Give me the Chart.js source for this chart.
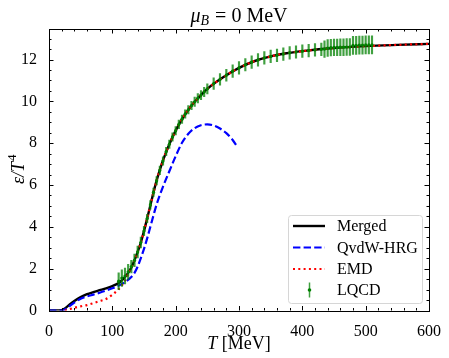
<!DOCTYPE html>
<html>
<head>
<meta charset="utf-8">
<script src="https://cdn.jsdelivr.net/npm/chart.js@4.4.0/dist/chart.umd.min.js"></script>
<style>
html, body { margin: 0; padding: 0; background: #fff; }
canvas { display: block; }
</style>
</head>
<body>
<canvas id="myChart" width="449" height="358"></canvas>
<script>
// merged curve
const mergedT = [0, 10, 20, 25, 30, 40, 50, 60, 70, 80, 90, 100, 110, 115, 120, 125, 130, 135, 140, 145, 150, 155, 160, 165, 170, 175, 180, 190, 200, 210, 220, 230, 240, 250, 275, 300, 325, 350, 375, 400, 450, 500, 550, 600];
const mergedE = [0, 0, 0.02, 0.1, 0.22, 0.45, 0.64, 0.78, 0.88, 0.97, 1.06, 1.17, 1.32, 1.44, 1.6, 1.8, 2.05, 2.4, 2.8, 3.25, 3.8, 4.4, 5.02, 5.65, 6.22, 6.72, 7.18, 7.95, 8.6, 9.15, 9.6, 9.98, 10.3, 10.6, 11.15, 11.6, 11.93, 12.15, 12.3, 12.4, 12.55, 12.64, 12.7, 12.75];

// QvdW-HRG
const qvdwT = [0, 20, 25, 30, 40, 50, 60, 70, 80, 90, 100, 110, 120, 130, 135, 140, 145, 150, 155, 160, 165, 170, 180, 190, 200, 210, 220, 230, 240, 250, 260, 270, 280, 290, 298];
const qvdwE = [0, 0, 0.05, 0.15, 0.38, 0.56, 0.67, 0.76, 0.85, 0.95, 1.06, 1.19, 1.36, 1.6, 1.8, 2.1, 2.5, 2.95, 3.45, 4.0, 4.55, 5.08, 5.92, 6.66, 7.38, 8.02, 8.45, 8.72, 8.86, 8.9, 8.85, 8.7, 8.48, 8.15, 7.8];

// EMD
const emdT = [25, 30, 40, 50, 60, 70, 80, 90, 100, 105, 110, 115, 120, 125, 130, 135, 140, 145, 150, 155, 160, 165, 170, 175, 180, 190, 200, 210, 220, 230, 240, 250, 275, 300, 325, 350, 375, 400, 450, 500, 550, 600];
const emdE = [0, 0.04, 0.13, 0.2, 0.26, 0.35, 0.45, 0.55, 0.75, 0.88, 1.02, 1.2, 1.42, 1.75, 2.05, 2.4, 2.8, 3.25, 3.8, 4.4, 5.02, 5.65, 6.22, 6.72, 7.18, 7.95, 8.6, 9.15, 9.6, 9.98, 10.3, 10.6, 11.15, 11.6, 11.93, 12.15, 12.3, 12.4, 12.55, 12.64, 12.7, 12.75];

// LQCD
const lqcdT = [110, 115, 120, 125, 130, 135, 140, 145, 150, 155, 160, 165, 170, 175, 180, 185, 190, 195, 200, 205, 210, 215, 220, 225, 230, 235, 240, 245, 250,
  260, 270, 280, 290, 300, 310, 320, 330, 340, 350, 360, 370, 380, 390, 400, 410, 420, 430,
  435, 440, 445, 450, 455, 460, 465, 470, 475, 480, 485, 490, 495, 500, 505, 510];
const lqcdE = [1.4, 1.55, 1.65, 1.85, 2.1, 2.4, 2.8, 3.25, 3.8, 4.4, 5.05, 5.65, 6.2, 6.7, 7.15, 7.6, 7.95, 8.3, 8.6, 8.9, 9.15, 9.4, 9.6, 9.8, 9.98, 10.15, 10.3, 10.45, 10.6,
  10.85, 11.05, 11.25, 11.45, 11.6, 11.75, 11.88, 11.98, 12.08, 12.15, 12.2, 12.26, 12.32, 12.36, 12.4, 12.43, 12.46, 12.49,
  12.5, 12.55, 12.57, 12.58, 12.58, 12.59, 12.59, 12.6, 12.6, 12.68, 12.68, 12.69, 12.69, 12.7, 12.7, 12.7];
const lqcdErr = [0.4, 0.4, 0.38, 0.36, 0.3, 0.3, 0.28, 0.26, 0.22, 0.2, 0.2, 0.2, 0.2, 0.2, 0.2, 0.2, 0.2, 0.2, 0.2, 0.2, 0.2, 0.2, 0.2, 0.2, 0.22, 0.22, 0.22, 0.22, 0.24,
  0.28, 0.28, 0.28, 0.3, 0.3, 0.3, 0.3, 0.3, 0.3, 0.3, 0.3, 0.3, 0.3, 0.3, 0.3, 0.3, 0.3, 0.3,
  0.4, 0.4, 0.4, 0.4, 0.4, 0.4, 0.4, 0.4, 0.4, 0.43, 0.43, 0.43, 0.43, 0.43, 0.43, 0.43];

const xTicks = [0, 100, 200, 300, 400, 500, 600];
const yTicks = [0, 2, 4, 6, 8, 10, 12];

const serif = '"Liberation Serif", "Times New Roman", serif';
const green = 'rgba(0,128,0,0.75)';

const pts = (xs, ys) => xs.map((t, i) => ({x: t, y: ys[i]}));

// matplotlib-like frame, inward ticks, title, labels and legend
const decor = {
  id: 'decor',
  afterDraw(chart) {
    const {ctx, chartArea: a, scales: {x, y}} = chart;
    ctx.save();
    ctx.strokeStyle = '#000';
    ctx.lineWidth = 1;
    // ticks on all four sides
    ctx.beginPath();
    for (let v = 0; v <= 600; v += 20) {
      const px = Math.round(x.getPixelForValue(v)) + 0.5;
      const len = v % 100 === 0 ? 4.5 : 2.5;
      ctx.moveTo(px, a.bottom); ctx.lineTo(px, a.bottom - len);
      ctx.moveTo(px, a.top); ctx.lineTo(px, a.top + len);
    }
    for (let v = 0; v <= 13; v += 0.5) {
      const py = Math.round(y.getPixelForValue(v)) + 0.5;
      const len = v % 2 === 0 ? 4.5 : 2.5;
      ctx.moveTo(a.left, py); ctx.lineTo(a.left + len, py);
      ctx.moveTo(a.right, py); ctx.lineTo(a.right - len, py);
    }
    ctx.stroke();
    ctx.strokeRect(Math.round(a.left) + 0.5, Math.round(a.top) + 0.5, Math.round(a.width), Math.round(a.height));

    ctx.fillStyle = '#000';
    ctx.textBaseline = 'alphabetic';
    // title: mu_B = 0 MeV
    const cx = (a.left + a.right) / 2;
    ctx.font = 'italic 20px ' + serif;
    const wMu = ctx.measureText('μ').width;
    ctx.font = 'italic 14px ' + serif;
    const wB = ctx.measureText('B').width;
    ctx.font = '20px ' + serif;
    const rest = ' = 0 MeV';
    const wR = ctx.measureText(rest).width;
    let tx = cx - (wMu + wB + 1 + wR) / 2;
    ctx.textAlign = 'left';
    ctx.font = 'italic 20px ' + serif;
    ctx.fillText('μ', tx, 22);
    tx += wMu;
    ctx.font = 'italic 14px ' + serif;
    ctx.fillText('B', tx, 25);
    tx += wB + 1;
    ctx.font = '20px ' + serif;
    ctx.fillText(rest, tx, 22);

    // x label
    ctx.font = 'italic 18px ' + serif;
    const wT = ctx.measureText('T').width;
    ctx.font = '18px ' + serif;
    const wM = ctx.measureText(' [MeV]').width;
    tx = cx - (wT + wM) / 2;
    ctx.font = 'italic 18px ' + serif;
    ctx.fillText('T', tx, 349);
    ctx.font = '18px ' + serif;
    ctx.fillText(' [MeV]', tx + wT, 349);

    // y label
    ctx.save();
    ctx.translate(24, (a.top + a.bottom) / 2);
    ctx.rotate(-Math.PI / 2);
    ctx.font = 'italic 18px ' + serif;
    const w1 = ctx.measureText('ε/T').width;
    ctx.font = '13px ' + serif;
    const w2 = ctx.measureText('4').width;
    let yx = -(w1 + w2) / 2;
    ctx.font = 'italic 18px ' + serif;
    ctx.fillText('ε/T', yx, 0);
    ctx.font = '13px ' + serif;
    ctx.fillText('4', yx + w1 + 1, -8);
    ctx.restore();

    // legend
    const lx = 288, ly = 215, lw = 134, lh = 88;
    ctx.beginPath();
    ctx.roundRect(lx + 0.5, ly + 0.5, lw, lh, 3);
    ctx.fillStyle = 'rgba(255,255,255,0.85)';
    ctx.fill();
    ctx.strokeStyle = '#d6d6d6';
    ctx.stroke();
    const rows = [226, 247.5, 269, 290];
    const sets = chart.data.datasets;
    const lineItems = [sets[4], sets[3], sets[2]];
    lineItems.forEach((ds, i) => {
      ctx.beginPath();
      ctx.strokeStyle = ds.borderColor;
      ctx.lineWidth = ds.borderWidth;
      ctx.setLineDash(ds.borderDash || []);
      ctx.moveTo(293, rows[i]);
      ctx.lineTo(325, rows[i]);
      ctx.stroke();
    });
    ctx.setLineDash([]);
    ctx.beginPath();
    ctx.strokeStyle = green;
    ctx.lineWidth = 1.5;
    ctx.moveTo(309.5, rows[3] - 7.5);
    ctx.lineTo(309.5, rows[3] + 7.5);
    ctx.stroke();
    ctx.beginPath();
    ctx.fillStyle = 'green';
    ctx.arc(309.5, rows[3], 1.8, 0, Math.PI * 2);
    ctx.fill();
    ctx.fillStyle = '#000';
    ctx.font = '16px ' + serif;
    ctx.textBaseline = 'middle';
    ['Merged', 'QvdW-HRG', 'EMD', 'LQCD'].forEach((s, i) => ctx.fillText(s, 337, rows[i] + 1));
    ctx.restore();
  }
};

const ctx = document.getElementById('myChart').getContext('2d');
const myChart = new Chart(ctx, {
  type: 'line',
  data: {
    datasets: [
      {
        type: 'bar',
        label: 'LQCD',
        data: lqcdT.map((t, i) => ({x: t, y: [lqcdE[i] - lqcdErr[i], lqcdE[i] + lqcdErr[i]]})),
        backgroundColor: green,
        barThickness: 1.5,
        borderWidth: 0
      },
      {
        type: 'scatter',
        label: 'LQCD points',
        data: pts(lqcdT, lqcdE),
        pointRadius: 1.6,
        pointBackgroundColor: 'green',
        pointBorderWidth: 0,
        showLine: false
      },
      {
        label: 'EMD',
        data: pts(emdT, emdE),
        borderColor: '#ff0000',
        borderWidth: 2.2,
        borderDash: [2, 3.3],
        borderCapStyle: 'butt',
        pointRadius: 0,
        cubicInterpolationMode: 'monotone'
      },
      {
        label: 'QvdW-HRG',
        data: pts(qvdwT, qvdwE),
        borderColor: '#0000ff',
        borderWidth: 2.2,
        borderDash: [7.4, 3.2],
        borderCapStyle: 'butt',
        pointRadius: 0,
        cubicInterpolationMode: 'monotone'
      },
      {
        label: 'Merged',
        data: pts(mergedT, mergedE),
        borderColor: '#000000',
        borderWidth: 2.4,
        pointRadius: 0,
        cubicInterpolationMode: 'monotone'
      }
    ]
  },
  options: {
    responsive: false,
    animation: false,
    devicePixelRatio: 1,
    layout: { padding: { top: 29, right: 20, left: 0, bottom: 0 } },
    plugins: { legend: { display: false }, tooltip: { enabled: false }, title: { display: false } },
    scales: {
      x: {
        type: 'linear', min: 0, max: 600, offset: false,
        grid: { display: false },
        border: { display: false },
        afterBuildTicks: s => { s.ticks = xTicks.map(v => ({value: v})); },
        afterFit: s => { s.height = 47.5; },
        ticks: { color: '#000', font: { family: serif, size: 16 }, padding: 4, maxRotation: 0 }
      },
      y: {
        type: 'linear', min: 0, max: 13.46,
        grid: { display: false },
        border: { display: false },
        afterBuildTicks: s => { s.ticks = yTicks.map(v => ({value: v})); },
        afterFit: s => { s.width = 49; },
        ticks: { color: '#000', font: { family: serif, size: 16 }, padding: 4 }
      }
    }
  },
  plugins: [decor]
});
</script>
</body>
</html>
